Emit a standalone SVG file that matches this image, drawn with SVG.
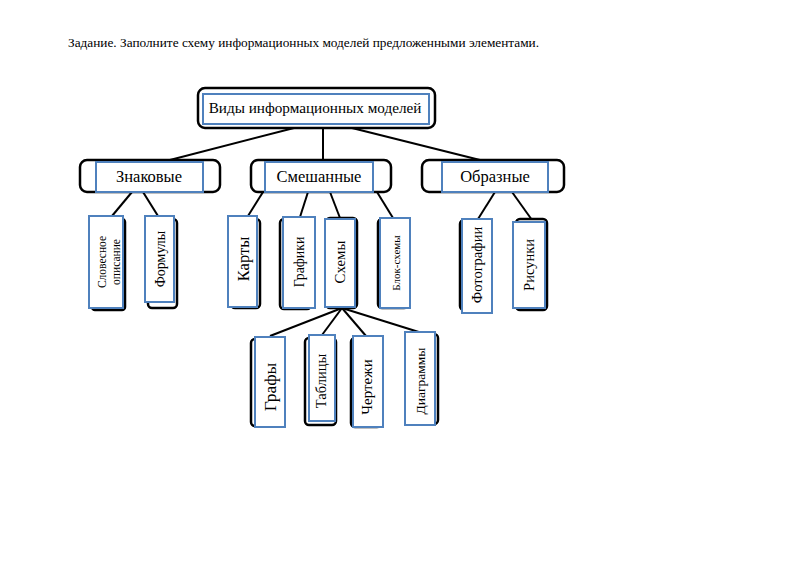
<svg xmlns="http://www.w3.org/2000/svg" width="800" height="565" viewBox="0 0 800 565">
<style>
  text { font-family: "Liberation Serif", "Times New Roman", serif; fill: #000; }
  .sh { fill: #fff; stroke: #000; stroke-width: 2.5; }
  .bx { fill: #fff; stroke: #4f81bd; stroke-width: 2; }
  .c line { stroke: #000; stroke-width: 2; }
  .m { text-anchor: middle; }
</style>
<rect width="800" height="565" fill="#fff"/>
<text x="68" y="47" font-size="13.3">Задание. Заполните схему информационных моделей предложенными элементами.</text>

<g class="c" id="connectors">
  <line x1="323" y1="128" x2="323" y2="162"/>
  <line x1="294" y1="128" x2="166" y2="161"/>
  <line x1="352" y1="128" x2="484" y2="161"/>
  <line x1="132" y1="192" x2="112" y2="216"/>
  <line x1="143" y1="192" x2="158" y2="216"/>
  <line x1="263" y1="192" x2="248" y2="216"/>
  <line x1="308" y1="192" x2="300" y2="217"/>
  <line x1="330" y1="192" x2="340" y2="218"/>
  <line x1="377" y1="192" x2="393" y2="218"/>
  <line x1="495" y1="192" x2="478" y2="219"/>
  <line x1="512" y1="192" x2="532" y2="220"/>
  <line x1="342" y1="308" x2="270" y2="336"/>
  <line x1="342" y1="308" x2="322" y2="335"/>
  <line x1="342" y1="308" x2="366" y2="336"/>
  <line x1="342" y1="308" x2="422" y2="333"/>
</g>

<g id="root">
  <rect class="sh" x="198" y="88" width="237" height="40" rx="7" stroke-width="3"/>
  <rect class="bx" x="203" y="94" width="226" height="30"/>
  <text class="m" x="315" y="113" font-size="15.2">Виды информационных моделей</text>
</g>

<g id="znakovye">
  <rect class="sh" x="80" y="160" width="140" height="32" rx="7"/>
  <rect class="bx" x="96" y="162" width="107" height="30"/>
  <text class="m" x="149" y="182" font-size="16.5">Знаковые</text>
</g>
<g id="smeshannye">
  <rect class="sh" x="251" y="160" width="140" height="32" rx="7"/>
  <rect class="bx" x="265" y="162" width="108" height="30"/>
  <text class="m" x="319" y="182" font-size="16.5">Смешанные</text>
</g>
<g id="obraznye">
  <rect class="sh" x="422" y="160" width="142" height="32" rx="7"/>
  <rect class="bx" x="442" y="162" width="106" height="30"/>
  <text class="m" x="495" y="182" font-size="16.5">Образные</text>
</g>

<g id="slovesnoe">
  <rect class="sh" x="92" y="219" width="33" height="91" rx="3"/>
  <rect class="bx" x="89" y="216" width="34" height="92"/>
  <text class="m" transform="translate(106,262) rotate(-90)" font-size="11.5">Словесное</text>
  <text class="m" transform="translate(120,262) rotate(-90)" font-size="11.5">описание</text>
</g>
<g id="formuly">
  <rect class="sh" x="148" y="219" width="29" height="89" rx="4"/>
  <rect class="bx" x="145" y="216" width="29" height="86"/>
  <text class="m" transform="translate(160,259) rotate(-90)" dy="0.35em" font-size="14">Формулы</text>
</g>
<g id="karty">
  <rect class="sh" x="231" y="219" width="29" height="89" rx="4"/>
  <rect class="bx" x="228" y="216" width="29" height="91"/>
  <text class="m" transform="translate(243,259) rotate(-90)" dy="0.35em" font-size="16.5">Карты</text>
</g>
<g id="grafiki">
  <rect class="sh" x="280" y="219" width="31" height="90" rx="4"/>
  <rect class="bx" x="283" y="217" width="32" height="91"/>
  <text class="m" transform="translate(299,262) rotate(-90)" dy="0.35em" font-size="13.8">Графики</text>
</g>
<g id="skhemy">
  <rect class="sh" x="326" y="218" width="31" height="90" rx="4"/>
  <rect class="bx" x="325" y="219" width="30" height="88"/>
  <text class="m" transform="translate(340,262) rotate(-90)" dy="0.35em" font-size="14.8">Схемы</text>
</g>
<g id="blok-skhemy">
  <rect class="sh" x="378" y="219" width="30" height="89" rx="4"/>
  <rect class="bx" x="380" y="218" width="30" height="90"/>
  <text class="m" transform="translate(396,263) rotate(-90)" dy="0.35em" font-size="11">Блок-схемы</text>
</g>
<g id="fotografii">
  <rect class="sh" x="460" y="220" width="31" height="90" rx="4"/>
  <rect class="bx" x="462" y="219" width="30" height="94"/>
  <text class="m" transform="translate(477,265) rotate(-90)" dy="0.35em" font-size="14.5">Фотографии</text>
</g>
<g id="risunki">
  <rect class="sh" x="516" y="219" width="31" height="91" rx="4"/>
  <rect class="bx" x="513" y="222" width="32" height="86"/>
  <text class="m" transform="translate(529,265) rotate(-90)" dy="0.35em" font-size="14.5">Рисунки</text>
</g>

<g id="grafy">
  <rect class="sh" x="251" y="339" width="30" height="87" rx="4"/>
  <rect class="bx" x="255" y="337" width="30" height="90"/>
  <text class="m" transform="translate(270,387) rotate(-90)" dy="0.35em" font-size="17.5">Графы</text>
</g>
<g id="tablitsy">
  <rect class="sh" x="305" y="338" width="31" height="87" rx="4"/>
  <rect class="bx" x="309" y="335" width="26" height="86"/>
  <text class="m" transform="translate(321,381) rotate(-90)" dy="0.35em" font-size="14.5">Таблицы</text>
</g>
<g id="chertezhi">
  <rect class="sh" x="351" y="338" width="30" height="89" rx="4"/>
  <rect class="bx" x="353" y="336" width="30" height="91"/>
  <text class="m" transform="translate(367,387) rotate(-90)" dy="0.35em" font-size="15">Чертежи</text>
</g>
<g id="diagrammy">
  <rect class="sh" x="408" y="334" width="30" height="90" rx="4"/>
  <rect class="bx" x="405" y="332" width="30" height="93"/>
  <text class="m" transform="translate(420,381) rotate(-90)" dy="0.35em" font-size="13.5">Диаграммы</text>
</g>
</svg>
